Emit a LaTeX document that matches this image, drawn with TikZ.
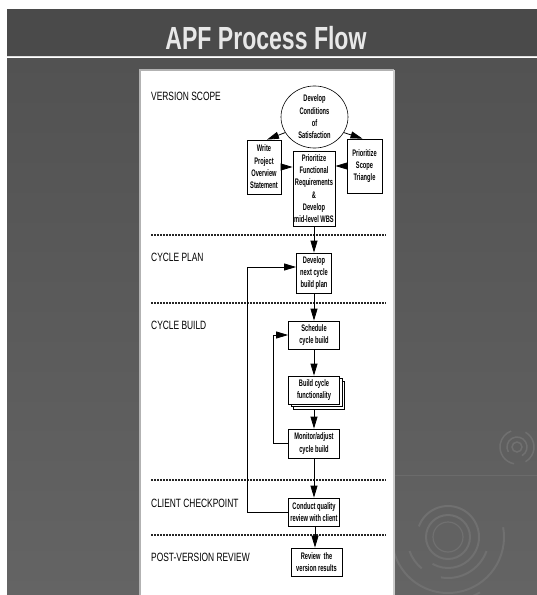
\documentclass[tikz,border=0pt]{standalone}
\usepackage{fontspec}
\setmainfont{Liberation Sans}
\newfontfamily\narrowfont{Liberation Sans}[FakeStretch=0.6]
\newfontfamily\headfont{Liberation Sans}[FakeStretch=0.7]
\newfontfamily\titlefont{Liberation Sans}[FakeStretch=0.72]
\usetikzlibrary{arrows.meta,shapes.geometric,calc}
\definecolor{bgtop}{RGB}{82,82,82}
\definecolor{bgbot}{RGB}{100,100,100}
\definecolor{tbar}{RGB}{74,74,74}
\definecolor{ringc}{RGB}{112,112,112}
\definecolor{titletxt}{RGB}{232,232,232}
\begin{document}
\begin{tikzpicture}[x=1pt,y=-1pt,
  >={Triangle[length=12pt,width=7pt]},
  box/.style={draw=black, line width=0.8pt, fill=white, inner sep=0pt, align=center,
    font={\narrowfont\bfseries\fontsize{9.5}{12.3}\selectfont}},
  head/.style={anchor=west, inner sep=0pt, text=black,
    font={\headfont\fontsize{12}{13}\selectfont}},
  dotline/.style={line width=1.6pt, dash pattern=on 2pt off 1pt, black!85},
  conn/.style={line width=0.8pt, ->, black},
  ring/.style={draw=ringc, line width=2pt}
]
\useasboundingbox (0,0) rectangle (537,595);
\fill[white] (0,0) rectangle (537,595);
% background
\shade[top color=bgtop, bottom color=bgbot] (7,58) rectangle (537,595);
\fill[tbar] (7,9) rectangle (537,55.5);
\draw[gray!25, line width=1.6pt] (7,56.5) -- (537,56.5);
\draw[ringc!60!bgbot, line width=1pt] (395,475) -- (537,475);
% decorative rings
\draw[ring, line width=1.2pt] (448,537) circle (15);
\draw[ring] (448,537) circle (22);
\draw[ring] (448,537) ++(200:31) arc[start angle=200, end angle=480, radius=31];
\draw[ring] (448,537) ++(130:41) arc[start angle=130, end angle=160, radius=41];
\draw[ring] (448,537) ++(20:41) arc[start angle=20, end angle=100, radius=41];
\draw[ring] (448,537) ++(-10:56) arc[start angle=-10, end angle=185, radius=56];
\draw[ring] (448,537) ++(100:64) arc[start angle=100, end angle=60, radius=64];
\draw[ring, line width=1.5pt] (517,447) circle (5);
\draw[ring, line width=1.5pt] (517,447) ++(150:10) arc[start angle=150, end angle=420, radius=10];
\draw[ring, line width=1.5pt] (517,447) ++(100:17) arc[start angle=100, end angle=250, radius=17];
\draw[ring, line width=1.5pt] (517,447) ++(-60:17) arc[start angle=-60, end angle=60, radius=17];
% title
\node[text=titletxt, inner sep=0pt, font={\titlefont\bfseries\fontsize{32}{36}\selectfont}] (title) at (266,38.5) {APF Process Flow};
% panel
\fill[white] (140,70) rectangle (394,596);
\draw[gray!60, line width=1.2pt] (140,596) -- (140,70) -- (394,70);
\draw[gray!40, line width=2pt] (394,70) -- (394,596);
% headings
\node[head] (h1) at (151,96) {VERSION SCOPE};
\node[head] (h2) at (151,257.5) {CYCLE PLAN};
\node[head] (h3) at (151,325.5) {CYCLE BUILD};
\node[head] (h4) at (151,503) {CLIENT CHECKPOINT};
\node[head] (h5) at (151,557) {POST-VERSION REVIEW};
% separators
\draw[dotline] (151,235) -- (386,235);
\draw[dotline] (151,303) -- (386,303);
\draw[dotline] (151,480) -- (386,480);
\draw[dotline] (151,535) -- (386,535);
% nodes
\node[box, ellipse, line width=0.6pt, minimum width=67pt, minimum height=52pt] (ell) at (314.5,117)
  {Develop\\Conditions\\of\\Satisfaction};
\node[box, minimum width=34pt, minimum height=54pt] (wpos) at (264,167)
  {Write\\Project\\Overview\\Statement};
\node[box, minimum width=42pt, minimum height=75pt] (pfr) at (314,188.5)
  {Prioritize\\Functional\\Requirements\\\&\\Develop\\mid-level WBS};
\node[box, minimum width=35pt, minimum height=54pt] (pst) at (364.5,166)
  {Prioritize\\Scope\\Triangle};
\node[box, minimum width=35pt, minimum height=40pt] (dnc) at (314,273)
  {Develop\\next cycle\\build plan};
\node[box, minimum width=51pt, minimum height=28pt] (scb) at (314,335)
  {Schedule\\cycle build};
\node[box, minimum width=51pt, minimum height=28pt] (bcf3) at (319,395) {};
\node[box, minimum width=51pt, minimum height=28pt] (bcf2) at (316.5,392.5) {};
\node[box, minimum width=51pt, minimum height=28pt] (bcf) at (314,390)
  {Build cycle\\functionality};
\node[box, minimum width=51pt, minimum height=29pt] (mac) at (314,443.5)
  {Monitor/adjust\\cycle build};
\node[box, minimum width=51pt, minimum height=28pt] (cqr) at (314,512)
  {Conduct quality\\review with client};
\node[box, minimum width=51pt, minimum height=28pt] (rvr) at (316.5,562)
  {Review~~the\\version results};
% connectors
\draw[conn] (ell.208) -- ([xshift=3pt]wpos.north);
\draw[conn] (ell.332) -- ([xshift=-2pt]pst.north);
\draw[conn] (wpos.east) -- (wpos.east -| pfr.west);
\draw[conn] (pst.west) -- (pst.west -| pfr.east);
\draw[conn] (pfr.south) -- (pfr.south |- dnc.north);
\draw[conn] (dnc.south) -- (dnc.south |- scb.north);
\draw[conn] (scb.south) -- (scb.south |- bcf.north);
\draw[conn] (bcf3.south -| bcf.south) -- (bcf.south |- mac.north);
\draw[conn] (mac.south) -- (mac.south |- cqr.north);
\draw[conn] ([xshift=1pt]cqr.south) -- ([xshift=1pt]cqr.south |- rvr.north);
\coordinate (il) at (273,335);
\coordinate (ol) at (247,267);
\draw[conn] (mac.west) -| (il) -- (il -| scb.west);
\draw[conn] (cqr.west) -| (ol) -- (ol -| dnc.west);
\end{tikzpicture}
\end{document}
